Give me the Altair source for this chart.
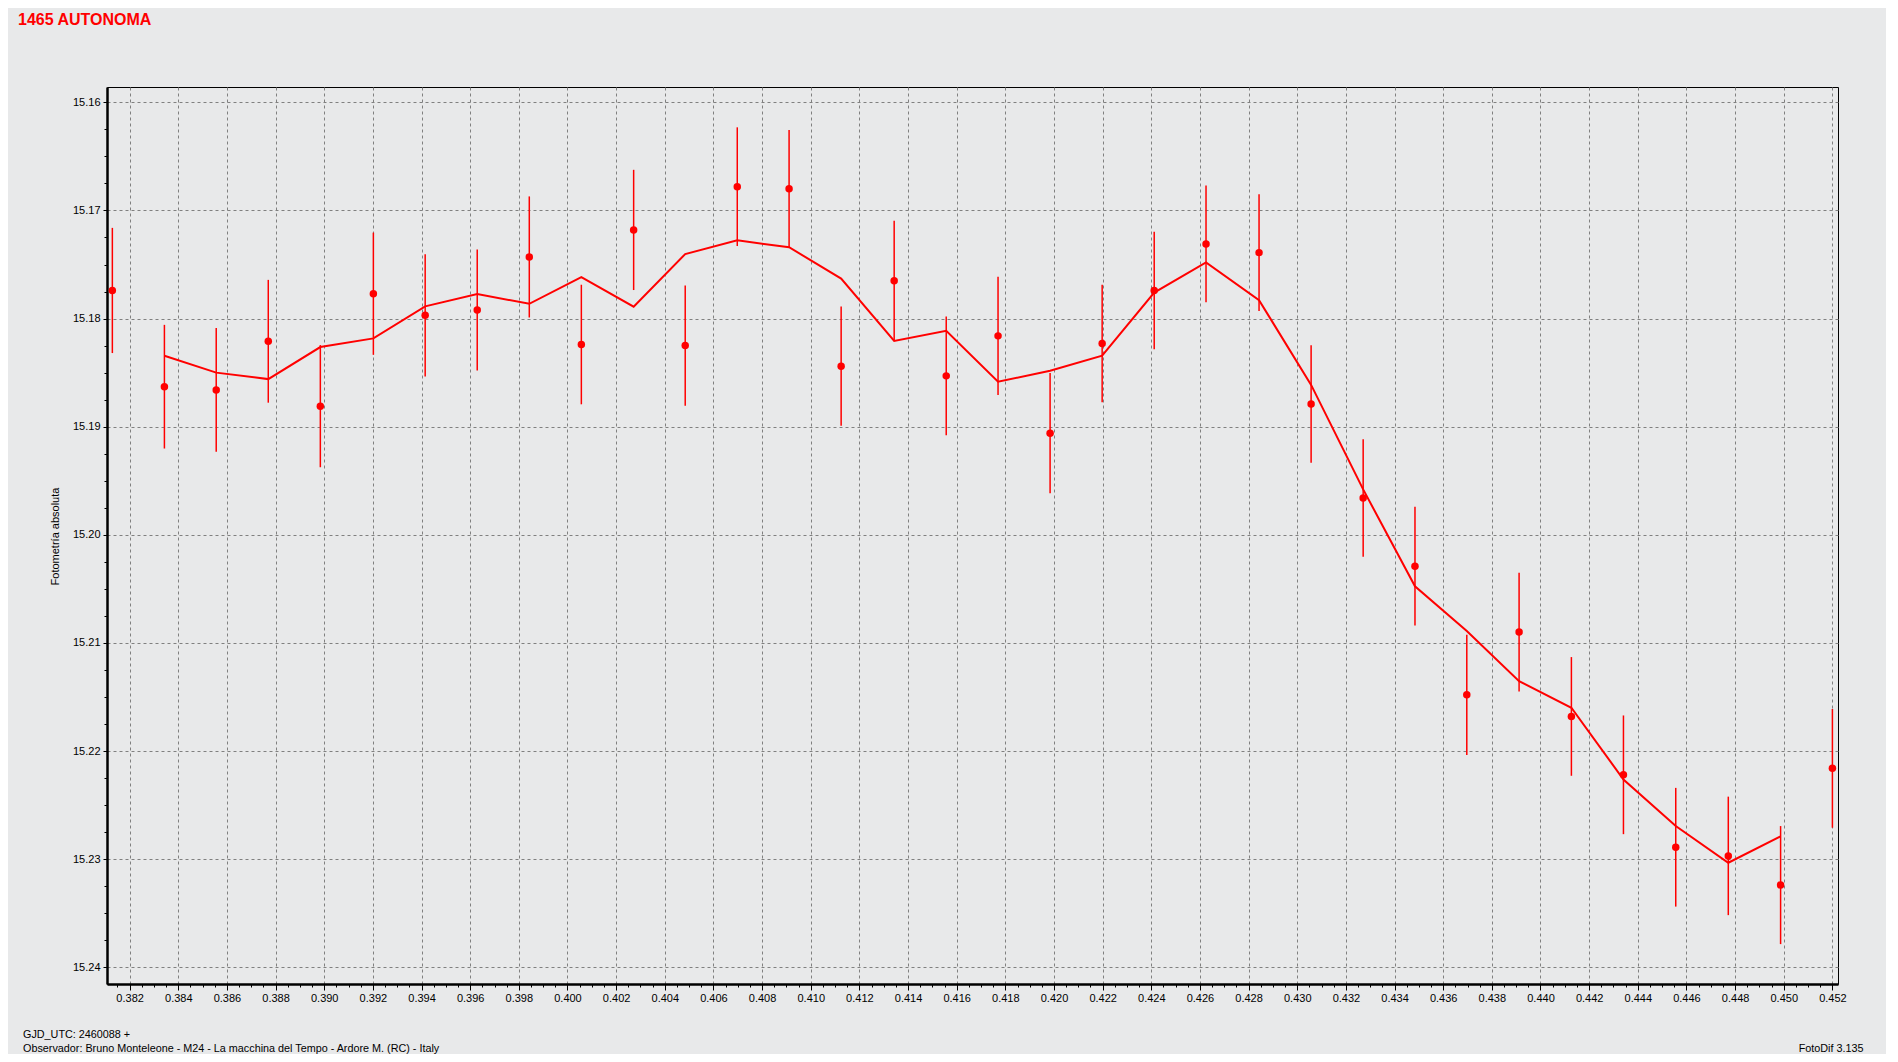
import altair as alt
import pandas as pd

# ---- data ----
gjd = [0.38129, 0.38343, 0.38556, 0.38770, 0.38984, 0.39202, 0.39415, 0.39629, 0.39843, 0.40057,
       0.40272, 0.40484, 0.40698, 0.40911, 0.41125, 0.41343, 0.41557, 0.41770, 0.41984, 0.42198,
       0.42412, 0.42625, 0.42843, 0.43057, 0.43271, 0.43484, 0.43697, 0.43912, 0.44127, 0.44341,
       0.44556, 0.44772, 0.44987, 0.45200]
mag = [15.1774, 15.1863, 15.1866, 15.1821, 15.1881, 15.1777, 15.1797, 15.1792, 15.1743, 15.1824,
       15.1718, 15.1825, 15.1678, 15.1680, 15.1844, 15.1765, 15.1853, 15.1816, 15.1906, 15.1823,
       15.1774, 15.1731, 15.1739, 15.1879, 15.1966, 15.2029, 15.2148, 15.2090, 15.2168, 15.2222,
       15.2289, 15.2297, 15.2324, 15.2216]
err = [0.00579, 0.00572, 0.00572, 0.00568, 0.00565, 0.00565, 0.00565, 0.00560, 0.00560, 0.00553,
       0.00556, 0.00556, 0.00549, 0.00545, 0.00551, 0.00554, 0.00549, 0.00548, 0.00556, 0.00544,
       0.00544, 0.00540, 0.00540, 0.00544, 0.00544, 0.00549, 0.00556, 0.00549, 0.00549, 0.00549,
       0.00549, 0.00548, 0.00546, 0.00549]

x_major_ticks = [0.382, 0.384, 0.386, 0.388, 0.390, 0.392, 0.394, 0.396, 0.398, 0.400, 0.402,
                 0.404, 0.406, 0.408, 0.410, 0.412, 0.414, 0.416, 0.418, 0.420, 0.422, 0.424,
                 0.426, 0.428, 0.430, 0.432, 0.434, 0.436, 0.438, 0.440, 0.442, 0.444, 0.446,
                 0.448, 0.450, 0.452]
y_major_ticks = [15.16, 15.17, 15.18, 15.19, 15.20, 15.21, 15.22, 15.23, 15.24]

title_text = "1465 AUTONOMA"
y_title = "Fotometría absoluta"
footer_1 = "GJD_UTC: 2460088 +"
footer_2 = "Observador: Bruno Monteleone - M24 - La macchina del Tempo - Ardore M. (RC) - Italy"
footer_3 = "FotoDif 3.135"

df = pd.DataFrame({"x": gjd, "mag": mag, "err": err})

# minor ticks (4 per major interval)
x_ticks = [round(0.3815 + 0.0005 * i, 4) for i in range(142)]
y_ticks = [round(15.16 + 0.0025 * i, 4) for i in range(33)]

FONT = "Liberation Sans"
BG = "#E8E9EA"
RED = "#FF0000"

MAJOR_X = "abs(datum.value*500 - round(datum.value*500)) < 0.001"
MAJOR_Y = "abs(datum.value*100 - round(datum.value*100)) < 0.001"

W, H = 1731, 897

xscale = alt.Scale(domain=[0.38107, 0.45223], nice=False, zero=False)
yscale = alt.Scale(domain=[15.15858, 15.24155], nice=False, zero=False, reverse=True)

xaxis = alt.Axis(
    title=None, values=x_ticks,
    labelExpr=f"({MAJOR_X}) ? format(datum.value, '.3f') : ''",
    tickSize={"condition": {"test": MAJOR_X, "value": 6}, "value": 3},
    gridOpacity={"condition": {"test": MAJOR_X, "value": 1}, "value": 0},
    gridColor="#808080", gridDash=[3, 3], gridWidth=1, grid=True,
    domainColor="black", domainWidth=2.5, tickColor="black", tickWidth=1,
    labelFont=FONT, labelFontSize=11, labelColor="black", labelPadding=2,
    labelOverlap=False, labelFlush=False,
)
yaxis = alt.Axis(
    title=y_title, values=y_ticks,
    labelExpr=f"({MAJOR_Y}) ? format(datum.value, '.2f') : ''",
    tickSize={"condition": {"test": MAJOR_Y, "value": 4}, "value": 3},
    gridOpacity={"condition": {"test": MAJOR_Y, "value": 1}, "value": 0},
    gridColor="#808080", gridDash=[3, 3], gridWidth=1, grid=True,
    domainColor="black", domainWidth=2.5, tickColor="black", tickWidth=1,
    labelFont=FONT, labelFontSize=11, labelColor="black", labelPadding=3,
    labelOverlap=False, labelFlush=False,
    titleFont=FONT, titleFontSize=11, titleFontWeight="normal", titleColor="black",
    titleAngle=270, titleAlign="center", titleBaseline="middle",
    titleX=-52, titleY=449,
)

base = alt.Chart(df)

bars = base.transform_calculate(
    lo="datum.mag - datum.err", hi="datum.mag + datum.err"
).mark_rule(color=RED, strokeWidth=1.5).encode(
    x=alt.X("x:Q", scale=xscale, axis=xaxis),
    y=alt.Y("lo:Q", scale=yscale, axis=yaxis),
    y2="hi:Q",
)

line = base.transform_window(
    ma="mean(mag)", n="count()", frame=[-1, 1], sort=[alt.SortField("x")]
).transform_filter("datum.n == 3").mark_line(color=RED, strokeWidth=2).encode(
    x=alt.X("x:Q", scale=xscale, axis=xaxis),
    y=alt.Y("ma:Q", scale=yscale, axis=yaxis),
)

points = base.mark_circle(color=RED, size=56, opacity=1).encode(
    x=alt.X("x:Q", scale=xscale, axis=xaxis),
    y=alt.Y("mag:Q", scale=yscale, axis=yaxis),
)


def note(text, x, y, align="left", size=11, weight="normal", color="black"):
    return alt.Chart(alt.Data(values=[{}])).mark_text(
        text=text, align=align, baseline="alphabetic", font=FONT,
        fontSize=size, fontWeight=weight, color=color,
    ).encode(x=alt.value(x), y=alt.value(y))


t_title = note(title_text, -89, -62, size=16, weight="bold", color=RED)
t_f1 = note(footer_1, -84, 950.5, size=10.8)
t_f2 = note(footer_2, -84, 965, size=10.8)
t_f3 = note(footer_3, 1756.5, 965, align="right", size=10.8)

chart = alt.layer(bars, line, points, t_title, t_f1, t_f2, t_f3).properties(
    width=W, height=H,
    autosize=alt.AutoSizeParams(type="none"),
    padding={"left": 99, "top": 79, "right": 48, "bottom": 70},
    background=BG,
).configure_view(
    stroke="black", strokeWidth=1, fill=BG
)

chart.save("out.html", embed_options={"renderer": "svg", "actions": False})
